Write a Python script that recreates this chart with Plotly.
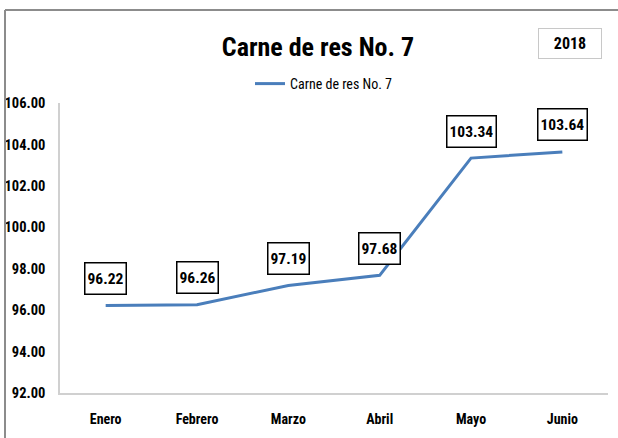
import plotly.graph_objects as go

months = ["Enero", "Febrero", "Marzo", "Abril", "Mayo", "Junio"]
values = [96.22, 96.26, 97.19, 97.68, 103.34, 103.64]
y_ticks = [92, 94, 96, 98, 100, 102, 104, 106]
series_name = "Carne de res No. 7"
year_label = "2018"

FONT = "Roboto Condensed, DejaVu Sans Condensed, Liberation Sans Narrow, DejaVu Sans"

W, H = 618, 438
L, R, T, B = 60, 10, 103, 45
pw, ph = W - L - R, H - T - B

def px_x(p):
    return (p - L) / pw

def px_y(p):
    return (H - B - p) / ph

def fnt(size, bold=True, color="black"):
    d = dict(family=FONT, size=size, color=color)
    if bold:
        d["weight"] = "bold"
    return d

fig = go.Figure()
fig.add_trace(go.Scatter(
    x=months, y=values, mode="lines", name=series_name,
    line=dict(color="#4a7ebb", width=3), hoverinfo="skip",
))

for m, v in zip(months, values):
    fig.add_annotation(
        x=m, y=v, xref="x", yref="y", text=f"{v:.2f}", showarrow=False,
        yshift=27, font=fnt(15.5), height=26,
        bgcolor="white", bordercolor="black", borderwidth=1.5, borderpad=2,
    )

fig.add_annotation(
    x=px_x(570), y=px_y(43), xref="paper", yref="paper", text=year_label,
    showarrow=False, font=fnt(16), width=58, height=25,
    bgcolor="white", bordercolor="#c8c8c8", borderwidth=1, borderpad=2,
    xanchor="center", yanchor="middle",
)

# outer frame (left and top edges)
fig.add_shape(type="line", xref="paper", yref="paper",
              x0=px_x(5), x1=px_x(5), y0=px_y(10), y1=px_y(445),
              line=dict(color="#8c8c8c", width=2))
fig.add_shape(type="line", xref="paper", yref="paper",
              x0=px_x(5), x1=px_x(625), y0=px_y(10), y1=px_y(10),
              line=dict(color="#8c8c8c", width=2))

fig.update_layout(
    width=W, height=H,
    margin=dict(l=L, r=R, t=T, b=B, autoexpand=False),
    paper_bgcolor="white", plot_bgcolor="white",
    title=dict(text=series_name, x=318 / W, y=1 - 47 / H,
               xanchor="center", yanchor="middle",
               font=fnt(26)),
    showlegend=True,
    legend=dict(orientation="h", x=px_x(324), y=px_y(84), xanchor="center",
                yanchor="middle", font=fnt(14, bold=False),
                bgcolor="rgba(0,0,0,0)"),
)
fig.update_xaxes(
    range=[-0.5, 5.5], showgrid=False, showline=True, linecolor="#d0d0d0",
    linewidth=1.5, ticks="", tickfont=fnt(14), automargin=False,
    ticklabelstandoff=12,
)
fig.update_yaxes(
    range=[92, 106], tickvals=y_ticks, ticktext=[f"{t:.2f}" for t in y_ticks],
    showgrid=False, showline=True, linecolor="#d0d0d0", linewidth=1.5, ticks="",
    zeroline=False, tickfont=fnt(14.5), automargin=False,
    ticklabelstandoff=10,
)

css = ("var s=document.createElement('style');"
       "s.textContent='html,body{margin:0;padding:0;} svg text{font-stretch:condensed !important;}';"
       "document.head.appendChild(s);")
fig.write_html("out.html", post_script=css, config={"displayModeBar": False})
